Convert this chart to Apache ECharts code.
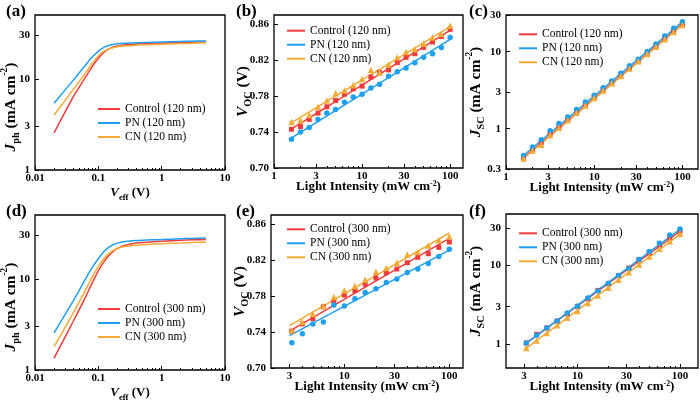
<!DOCTYPE html>
<html><head><meta charset="utf-8">
<script src="https://cdn.jsdelivr.net/npm/echarts@6/dist/echarts.min.js"></script>
<style>html,body{margin:0;padding:0;background:#fff}#c{width:700px;height:402px}</style>
</head><body><div id="c"></div>
<script>
const FONT = 'Liberation Serif';
const C_RED = '#ef3b3b', C_BLUE = '#1fa0ef', C_ORANGE = '#f3aa36';

// ---- (a)/(d) photocurrent vs effective voltage ----
const veff = [0.02,0.04,0.06,0.08,0.10,0.12,0.14,0.17,0.20,0.25,0.30,0.40,0.50,0.70,1.0,2.0,3.0,5.0];
const jphControl120 = [2.55,6.3,9.9,13.6,16.8,19.2,20.9,22.2,22.9,23.5,23.8,24.1,24.3,24.5,24.7,25.0,25.2,25.4];
const jphPN120      = [5.4,9.6,13.6,17.3,20.0,21.9,23.0,23.8,24.2,24.5,24.6,24.8,24.9,25.1,25.3,25.6,25.8,26.0];
const jphCN120      = [4.0,7.6,11.1,14.7,17.8,19.8,21.0,21.9,22.4,22.8,23.0,23.3,23.5,23.7,23.9,24.3,24.5,24.8];
const jphControl300 = [1.35,3.4,5.9,9.0,12.2,15.0,17.3,19.8,21.5,23.0,23.8,24.6,25.0,25.4,25.8,26.4,26.7,27.0];
const jphPN300      = [2.55,5.7,9.4,13.3,16.6,19.5,21.7,23.6,24.6,25.4,25.8,26.2,26.4,26.7,26.9,27.4,27.7,28.0];
const jphCN300      = [1.8,4.2,7.1,10.4,13.7,16.3,18.4,20.4,21.5,22.4,22.9,23.3,23.6,23.9,24.2,24.7,25.0,25.2];

// ---- light intensity dependence ----
const intensity120 = [1.58,2.0,2.51,3.16,3.98,5.01,6.31,7.94,10.0,12.6,15.8,20.0,25.1,31.6,39.8,50.1,63.1,79.4,100];
const intensity300 = [3.16,3.98,5.01,6.31,7.94,10.0,12.6,15.8,20.0,25.1,31.6,39.8,50.1,63.1,79.4,100];
const fitX120 = [1.5, 100];
const fitX300 = [3.0, 100];

const vocControl120 = [0.743,0.746,0.754,0.761,0.768,0.775,0.782,0.788,0.791,0.801,0.806,0.809,0.817,0.823,0.827,0.834,0.840,0.846,0.854];
const vocPN120      = [0.732,0.740,0.745,0.754,0.761,0.765,0.773,0.779,0.782,0.789,0.793,0.802,0.807,0.811,0.817,0.823,0.827,0.834,0.845];
const vocCN120      = [0.751,0.753,0.759,0.768,0.775,0.783,0.786,0.792,0.799,0.809,0.806,0.815,0.823,0.829,0.832,0.838,0.845,0.849,0.858];
const vocFitControl120 = [0.742,0.853];
const vocFitPN120      = [0.732,0.843];
const vocFitCN120      = [0.749,0.857];

const jscControl120 = [0.42,0.53,0.66,0.85,1.06,1.32,1.64,2.05,2.56,3.2,3.98,4.95,6.15,7.65,9.5,11.8,14.7,18.3,22.8];
const jscPN120      = [0.45,0.58,0.72,0.94,1.17,1.42,1.78,2.22,2.72,3.4,4.18,5.25,6.6,8.0,10.1,12.6,16.0,20.2,24.6];
const jscCN120      = [0.41,0.52,0.62,0.83,1.03,1.29,1.61,2.01,2.5,3.14,3.9,4.85,6.05,7.5,9.35,11.6,14.5,18.0,22.3];
const jscFitControl120 = [0.40,22.8];
const jscFitPN120      = [0.43,24.4];
const jscFitCN120      = [0.39,22.4];

const vocControl300 = [0.741,0.749,0.755,0.768,0.774,0.781,0.786,0.793,0.800,0.806,0.810,0.817,0.823,0.827,0.834,0.840];
const vocPN300      = [0.728,0.738,0.749,0.751,0.770,0.769,0.777,0.784,0.788,0.795,0.799,0.806,0.810,0.816,0.824,0.832];
const vocCN300      = [0.742,0.751,0.760,0.769,0.779,0.786,0.791,0.798,0.807,0.811,0.817,0.826,0.829,0.836,0.842,0.846];
const vocFitControl300 = [0.741,0.844];
const vocFitPN300      = [0.736,0.831];
const vocFitCN300      = [0.747,0.850];

const jscControl300 = [1.04,1.34,1.61,1.97,2.44,3.03,3.78,4.83,5.86,7.47,9.26,11.8,14.3,18.3,22.8,27.2];
const jscPN300      = [1.04,1.30,1.61,1.97,2.49,3.03,3.86,4.73,5.97,7.47,9.07,11.9,15.0,19.2,24.4,29.1];
const jscCN300      = [0.90,1.12,1.39,1.74,2.17,2.64,3.33,4.17,5.21,6.59,8.22,10.3,13.0,16.3,20.3,25.2];
const jscFitControl300 = [0.99,27.0];
const jscFitPN300      = [0.98,28.8];
const jscFitCN300      = [0.85,24.8];

// ---- tick labels ----
const ticksVeff = [0.01,0.1,1,10];
const ticksJph = [1,3,10,30];
const ticksIntensity120 = [1,3,10,30,100];
const ticksIntensity300 = [3,10,30,100];
const ticksVoc = [0.70,0.74,0.78,0.82,0.86];
const ticksJsc120 = [0.3,1,3,10,30];
const ticksJsc300 = [1,3,10,30];

const names120 = ['Control (120 nm)','PN (120 nm)','CN (120 nm)'];
const names300 = ['Control (300 nm)','PN (300 nm)','CN (300 nm)'];

const L = Math.log10;
const tr = (log, v) => log ? L(v) : v;
function pairs(xs, ys, lx, ly){ return xs.map((x,i)=>[tr(lx,x), tr(ly,ys[i])]); }
function minorTicks(lo, hi){
  const out=[];
  for(let k=Math.floor(L(lo))-1;k<=Math.ceil(L(hi));k++){
    for(let m=2;m<=9;m++){ const v=m*Math.pow(10,k); if(v>lo*1.0001 && v<hi*0.9999) out.push(L(v)); }
  }
  return out;
}
function fmtLog(v){ return String(+Math.pow(10,v).toPrecision(2)); }

const YS = 15.5, XS = 13;
function rich(S){
  return {
    n:{fontFamily:FONT,fontWeight:'bold',fontSize:S,color:'#000'},
    i:{fontFamily:FONT,fontWeight:'bold',fontStyle:'italic',fontSize:S,color:'#000'},
    s:{fontFamily:FONT,fontWeight:'bold',fontSize:S*0.66,color:'#000',verticalAlign:'bottom',lineHeight:S+6},
    p:{fontFamily:FONT,fontWeight:'bold',fontSize:S*0.6,color:'#000',verticalAlign:'top'}
  };
}
const nameJph = '{i|J}{s|ph}{n| (mA cm}{p|-2}{n|)}';
const nameVeff = '{i|V}{s|eff}{n| (V)}';
const nameVoc = '{i|V}{s|OC}{n| (V)}';
const nameJsc = '{i|J}{s|SC}{n| (mA cm}{p|-2}{n|)}';
const nameLI = '{n|Light Intensity (mW cm}{p|-2}{n|)}';

const panels = [
  {tag:'(a)', tagPos:[6,3], grid:[35,15,190,155], xl:true, xr:[0.01,10], xt:ticksVeff, yl:true, yr:[1,50], yt:ticksJph,
   xn:nameVeff, yn:nameJph, xg:13, yg:13.5, ypad:[0,29,0,0], leg:[98,102,22], names:names120, mode:'line', xs:veff,
   ys:[jphControl120,jphPN120,jphCN120]},
  {tag:'(b)', tagPos:[236,3], grid:[274,15,189,153], xl:true, xr:[1,140], xt:ticksIntensity120, yl:false, yr:[0.70,0.87], yt:ticksVoc,
   xn:nameLI, yn:nameVoc, xg:12, yg:20.5, ypad:null, leg:[287,23.7,18], names:names120, mode:'fit', xs:intensity120, fx:fitX120,
   ys:[vocControl120,vocPN120,vocCN120], fy:[vocFitControl120,vocFitPN120,vocFitCN120]},
  {tag:'(c)', tagPos:[469,3], grid:[506,15,192,154], xl:true, xr:[1,150], xt:ticksIntensity120, yl:true, yr:[0.3,30], yt:ticksJsc120,
   xn:nameLI, yn:nameJsc, xg:12, yg:19.5, ypad:null, leg:[519,27.3,18], names:names120, mode:'fit', xs:intensity120, fx:fitX120,
   ys:[jscControl120,jscPN120,jscCN120], fy:[jscFitControl120,jscFitPN120,jscFitCN120]},
  {tag:'(d)', tagPos:[6,203], grid:[35,215,190,155], xl:true, xr:[0.01,10], xt:ticksVeff, yl:true, yr:[1,50], yt:ticksJph,
   xn:nameVeff, yn:nameJph, xg:13, yg:13.5, ypad:[0,29,0,0], leg:[98,302,22], names:names300, mode:'line', xs:veff,
   ys:[jphControl300,jphPN300,jphCN300]},
  {tag:'(e)', tagPos:[236,203], grid:[271,215,192,153], xl:true, xr:[2,135], xt:ticksIntensity300, yl:false, yr:[0.70,0.87], yt:ticksVoc,
   xn:nameLI, yn:nameVoc, xg:12, yg:20.5, ypad:null, leg:[287,222.3,18], names:names300, mode:'fit', xs:intensity300, fx:fitX300,
   ys:[vocControl300,vocPN300,vocCN300], fy:[vocFitControl300,vocFitPN300,vocFitCN300]},
  {tag:'(f)', tagPos:[469,203], grid:[506,214,192,154], xl:true, xr:[2,150], xt:ticksIntensity300, yl:true, yr:[0.5,45], yt:ticksJsc300,
   xn:nameLI, yn:nameJsc, xg:12, yg:19.5, ypad:null, leg:[519,226.3,18], names:names300, mode:'fit', xs:intensity300, fx:fitX300,
   ys:[jscControl300,jscPN300,jscCN300], fy:[jscFitControl300,jscFitPN300,jscFitCN300]}
];

const colors = [C_RED, C_BLUE, C_ORANGE];
const symbols = ['rect','circle','triangle'];
const symSizes = [5,5.5,6.5];

const grid=[], xAxis=[], yAxis=[], series=[], legend=[], title=[];
const labelStyle = {color:'#000', fontFamily:FONT, fontWeight:'bold', fontSize:11};
panels.forEach((p, gi) => {
  grid.push({left:p.grid[0], top:p.grid[1], width:p.grid[2], height:p.grid[3], show:true,
    borderColor:'#000', borderWidth:1.3, backgroundColor:'transparent', containLabel:false, outerBoundsMode:'none'});
  const xMain = xAxis.length;
  const xtv = p.xt.map(v=>tr(p.xl,v));
  xAxis.push({type:'value', gridIndex:gi, position:'bottom', min:tr(p.xl,p.xr[0]), max:tr(p.xl,p.xr[1]),
    axisLine:{show:false,onZero:false}, splitLine:{show:false},
    axisTick:{show:true,inside:true,length:4,lineStyle:{color:'#000',width:1},customValues:xtv},
    axisLabel:Object.assign({show:true,customValues:xtv,margin:3,formatter:p.xl?fmtLog:(v=>v.toFixed(2))},labelStyle),
    name:p.xn, nameLocation:'middle', nameGap:p.xg, nameMoveOverlap:false,
    nameTextStyle:{rich:rich(XS)}});
  xAxis.push({type:'value', gridIndex:gi, position:'bottom', min:tr(p.xl,p.xr[0]), max:tr(p.xl,p.xr[1]),
    axisLine:{show:false,onZero:false}, splitLine:{show:false}, axisLabel:{show:false},
    axisTick:{show:true,inside:true,length:2,lineStyle:{color:'#000',width:1},customValues:minorTicks(p.xr[0],p.xr[1])}});
  const ytv = p.yt.map(v=>tr(p.yl,v));
  const yMain = yAxis.length;
  const nts = {rich:rich(YS)};
  if(p.ypad) nts.padding = p.ypad;
  yAxis.push({type:'value', gridIndex:gi, position:'left', min:tr(p.yl,p.yr[0]), max:tr(p.yl,p.yr[1]),
    axisLine:{show:false,onZero:false}, splitLine:{show:false},
    axisTick:{show:true,inside:true,length:4,lineStyle:{color:'#000',width:1},customValues:ytv},
    axisLabel:Object.assign({show:true,customValues:ytv,margin:5,formatter:p.yl?fmtLog:(v=>v.toFixed(2))},labelStyle),
    name:p.yn, nameLocation:'middle', nameGap:p.yg, nameMoveOverlap:false, nameTextStyle:nts});

  p.names.forEach((nm, k) => {
    if(p.mode==='line'){
      series.push({type:'line', name:nm, xAxisIndex:xMain, yAxisIndex:yMain, data:pairs(p.xs,p.ys[k],p.xl,p.yl),
        symbol:'none', smooth:0.25, lineStyle:{color:colors[k],width:1.5}, itemStyle:{color:colors[k]}, z:2, animation:false});
    } else {
      series.push({type:'line', name:nm, xAxisIndex:xMain, yAxisIndex:yMain, data:pairs(p.fx,p.fy[k],p.xl,p.yl),
        symbol:'none', lineStyle:{color:colors[k],width:1.5}, itemStyle:{color:colors[k]}, z:2, animation:false});
      series.push({type:'scatter', name:nm+' data', xAxisIndex:xMain, yAxisIndex:yMain, data:pairs(p.xs,p.ys[k],p.xl,p.yl),
        symbol:symbols[k], symbolSize:symSizes[k], itemStyle:{color:colors[k], opacity:1}, z:3, animation:false});
    }
  });
  legend.push({orient:'vertical', left:p.leg[0], top:p.leg[1], itemWidth:p.leg[2], itemHeight:2, itemGap:0, padding:0,
    icon:'rect', selectedMode:false, data:p.names,
    textStyle:{fontFamily:FONT,fontSize:11.5,color:'#000',lineHeight:14}});
  title.push({text:p.tag, left:p.tagPos[0], top:p.tagPos[1], padding:0,
    textStyle:{fontFamily:FONT,fontWeight:'bold',fontSize:17,color:'#000'}});
});

const chart = echarts.init(document.getElementById('c'), null, {renderer:'canvas'});
chart.setOption({animation:false, backgroundColor:'#fff', title, grid, xAxis, yAxis, legend, series});
</script></body></html>
